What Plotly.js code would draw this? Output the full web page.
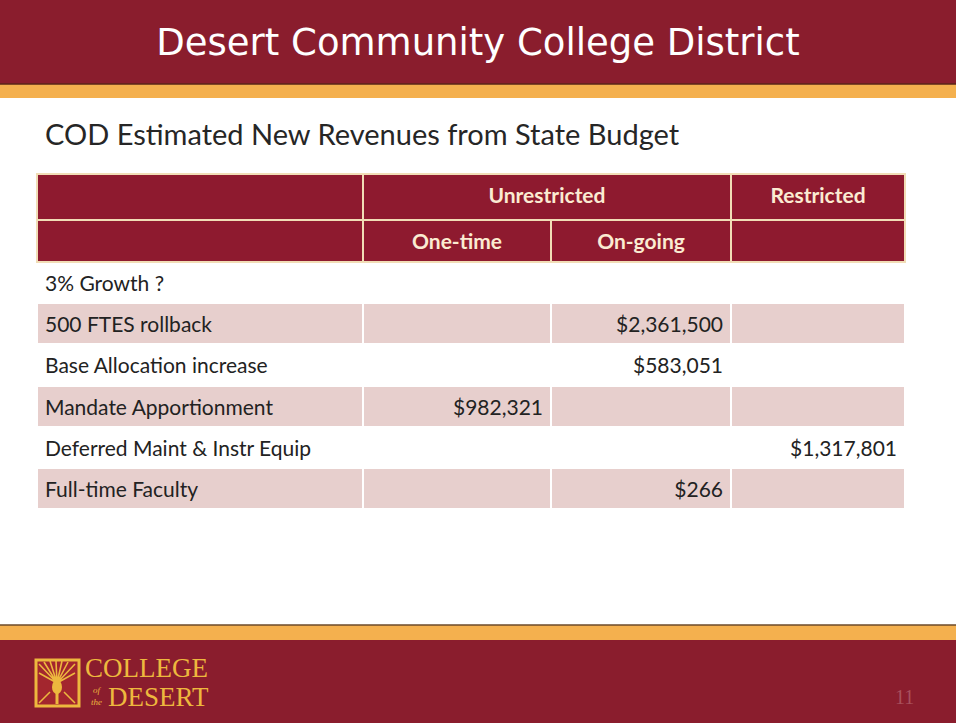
<!DOCTYPE html>
<html>
<head>
<meta charset="utf-8">
<script src="https://cdn.plot.ly/plotly-3.0.1.min.js"></script>
<style>
  html, body { margin: 0; padding: 0; background: #ffffff; }
  #chart { width: 956px; height: 723px; }
</style>
</head>
<body>
<div id="chart"></div>
<script>
// ---- Data ----
const slideTitle = "Desert Community College District";
const tableTitle = "COD Estimated New Revenues from State Budget";
const groupHeaders = ["", "Unrestricted", "Restricted"];
const subHeaders = ["", "One-time", "On-going", ""];
const rowLabels = [
  "3% Growth ?",
  "500 FTES rollback",
  "Base Allocation increase",
  "Mandate Apportionment",
  "Deferred Maint & Instr Equip",
  "Full-time Faculty"
];
const oneTime    = [null, null, null, 982321, null, null];
const onGoing    = [null, 2361500, 583051, null, null, 266];
const restricted = [null, null, null, null, 1317801, null];

// ---- Helpers ----
const W = 956, H = 723;
const px = x => x / W;
const py = y => 1 - y / H;
const esc = s => String(s).replace(/&/g, "&amp;");
const wrap = s => (s === "" ? "" : "<span>" + esc(s) + "</span>");
const fmt = v => (v === null || v === undefined) ? "" : wrap("$" + v.toLocaleString("en-US"));

const maroon = "#8A1D2D";
const headFill = "#8E1A2F";
const orange = "#F4B04E";
const pink = "#E7CFCD";
const gold = "#EDB83E";
const cellFont = "Lato, 'Open Sans', sans-serif";

const rowFill = rowLabels.map((_, i) => (i % 2 === 1 ? pink : "#FFFFFF"));

const tableA = {
  type: "table",
  domain: { x: [px(37), px(905)], y: [py(240), py(174)] },
  columnwidth: [326, 368, 174],
  header: {
    values: groupHeaders.map(wrap),
    height: 46,
    align: "center",
    fill: { color: headFill },
    line: { color: "#F1DDB6", width: 2 },
    font: { family: cellFont, size: 21, color: "#FBEBD2", weight: "bold" }
  },
  cells: { values: [[], [], []], height: 0 }
};

const tableB = {
  type: "table",
  domain: { x: [px(37), px(905)], y: [py(560), py(220)] },
  columnwidth: [326, 188, 180, 174],
  header: {
    values: subHeaders.map(wrap),
    height: 42,
    align: "center",
    fill: { color: headFill },
    line: { color: "#F1DDB6", width: 2 },
    font: { family: cellFont, size: 21, color: "#FBEBD2", weight: "bold" }
  },
  cells: {
    values: [rowLabels.map(wrap), oneTime.map(fmt), onGoing.map(fmt), restricted.map(fmt)],
    height: 41.2,
    align: ["left", "right", "right", "right"],
    fill: { color: [rowFill, rowFill, rowFill, rowFill] },
    line: { color: "#FFFFFF", width: 2 },
    font: { family: cellFont, size: 21, color: "#222222" }
  }
};

// palm rays from a point
const cx = 57, cy = 683;
const rayEnds = [[39, 664], [44, 662], [50, 661], [56, 661], [62, 661], [68, 662], [75, 664], [39, 673], [75, 673]];
const rays = rayEnds.map(([x, y]) => `M ${px(cx)} ${py(cy)} L ${px(x)} ${py(y)}`).join(" ");

const shapes = [
  // top banner
  { type: "rect", xref: "paper", yref: "paper", x0: 0, x1: 1, y0: py(84), y1: 1, fillcolor: maroon, line: { width: 0 }, layer: "below" },
  { type: "rect", xref: "paper", yref: "paper", x0: 0, x1: 1, y0: py(98), y1: py(84), fillcolor: orange, line: { width: 0 }, layer: "below" },
  { type: "line", xref: "paper", yref: "paper", x0: 0, x1: 1, y0: py(84), y1: py(84), line: { color: "#5A2418", width: 1.5 } },
  // bottom banner
  { type: "rect", xref: "paper", yref: "paper", x0: 0, x1: 1, y0: py(640), y1: py(625), fillcolor: orange, line: { width: 0 }, layer: "below" },
  { type: "line", xref: "paper", yref: "paper", x0: 0, x1: 1, y0: py(625), y1: py(625), line: { color: "#6B4A2A", width: 1.5 } },
  { type: "rect", xref: "paper", yref: "paper", x0: 0, x1: 1, y0: 0, y1: py(640), fillcolor: maroon, line: { width: 0 }, layer: "below" },
  // logo box
  { type: "rect", xref: "paper", yref: "paper", x0: px(36), x1: px(79), y0: py(706), y1: py(660), fillcolor: "#A3262E", line: { color: gold, width: 3 } },
  // stylised palm
  { type: "path", xref: "paper", yref: "paper", path: rays, line: { color: gold, width: 1.6 } },
  { type: "path", xref: "paper", yref: "paper",
    path: `M ${px(57)} ${py(704)} L ${px(57)} ${py(690)}`, line: { color: gold, width: 3 } },
  { type: "circle", xref: "paper", yref: "paper", x0: px(52), x1: px(62), y0: py(694), y1: py(680), fillcolor: gold, line: { width: 0 } },
  { type: "path", xref: "paper", yref: "paper",
    path: `M ${px(39)} ${py(703)} L ${px(50)} ${py(692)} M ${px(75)} ${py(703)} L ${px(64)} ${py(692)}`,
    line: { color: gold, width: 1.5 } }
];

const serif = "'Liberation Serif', 'DejaVu Serif', serif";
const annotations = [
  { text: tableTitle, xref: "paper", yref: "paper", x: px(43), y: py(133), xanchor: "left", yanchor: "middle", showarrow: false,
    font: { family: "Lato, 'Open Sans', sans-serif", size: 29, color: "#262626" } },
  { text: "COLLEGE", xref: "paper", yref: "paper", x: px(83), y: py(668), xanchor: "left", yanchor: "middle", showarrow: false,
    font: { family: serif, size: 27, color: gold } },
  { text: "<i>of<br>the</i>", xref: "paper", yref: "paper", x: px(89), y: py(696), xanchor: "left", yanchor: "middle", showarrow: false,
    font: { family: serif, size: 9, color: gold } },
  { text: "DESERT", xref: "paper", yref: "paper", x: px(106), y: py(697), xanchor: "left", yanchor: "middle", showarrow: false,
    font: { family: serif, size: 27, color: gold } },
  { text: "11", xref: "paper", yref: "paper", x: px(904), y: py(697), xanchor: "center", yanchor: "middle", showarrow: false,
    font: { family: "'Liberation Serif', serif", size: 20, color: "#A8505C" } }
];

const layout = {
  width: W, height: H,
  margin: { l: 0, r: 0, t: 0, b: 0 },
  paper_bgcolor: "#FFFFFF",
  plot_bgcolor: "#FFFFFF",
  title: {
    text: slideTitle,
    x: 0.5, xanchor: "center",
    y: py(42), yanchor: "middle", yref: "paper",
    font: { family: "'DejaVu Sans', Verdana, sans-serif", size: 37, color: "#FFFFFF" }
  },
  shapes: shapes,
  annotations: annotations,
  showlegend: false
};

Plotly.newPlot("chart", [tableA, tableB], layout, { displayModeBar: false, staticPlot: true });
</script>
</body>
</html>
